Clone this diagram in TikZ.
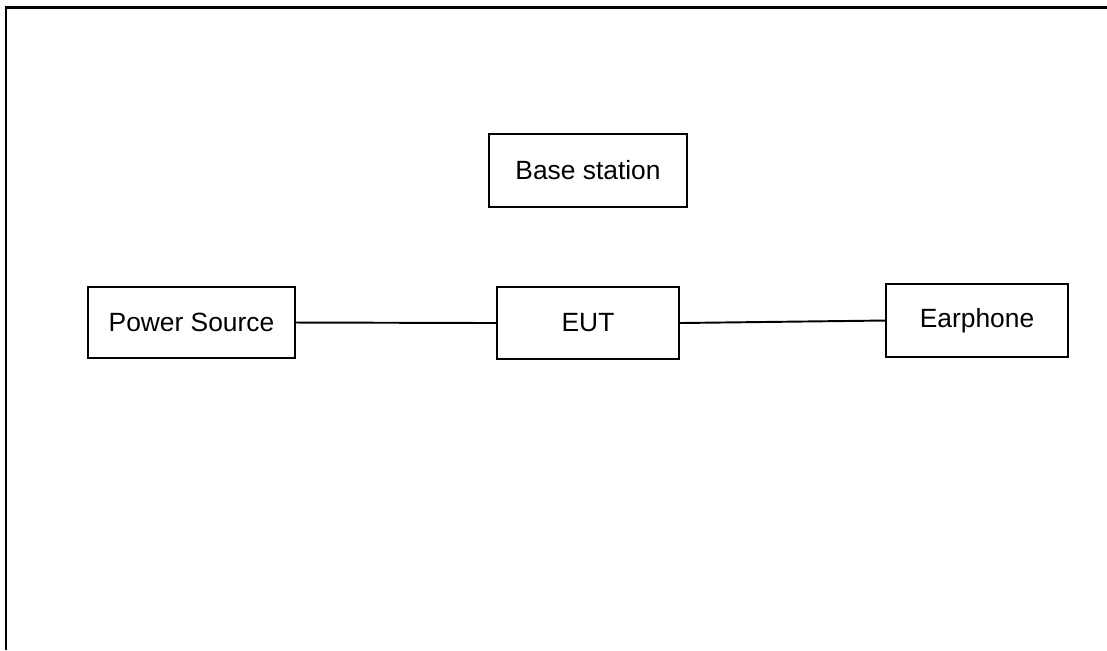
\documentclass[tikz,border=0pt]{standalone}
\usepackage{fontspec}
\setmainfont{Liberation Sans}
\usepackage{tikz}
\usetikzlibrary{arrows}
\usetikzlibrary{arrows.meta}

\tikzset{unitbox/.style={draw, line width=0.45pt, inner sep=0pt, minimum height=0.72cm, font=\fontsize{7.5pt}{9pt}\selectfont}}

\begin{document}
\begin{tikzpicture}[x=0.01cm, y=-0.01cm]
    \useasboundingbox (0,0) rectangle (1107,650);
    \draw[line width=0.85pt] (6,650) -- (6,7) -- (1107,7);
    \node[unitbox, minimum width=1.98cm, minimum height=0.73cm] (base) at (588,170.5) {Base station};
    \node[unitbox, minimum width=2.07cm, minimum height=0.71cm] (power) at (191.5,322.5) {Power Source};
    \node[unitbox, minimum width=1.82cm] (eut) at (588,323) {EUT};
    \node[unitbox, minimum width=1.82cm, minimum height=0.73cm] (ear) at (977,320.5) {Earphone};
    \draw[line width=0.55pt] (power.east) -- (eut.west);
    \draw[line width=0.55pt] (eut.east) -- (ear.west);
  \end{tikzpicture}
\end{document}
